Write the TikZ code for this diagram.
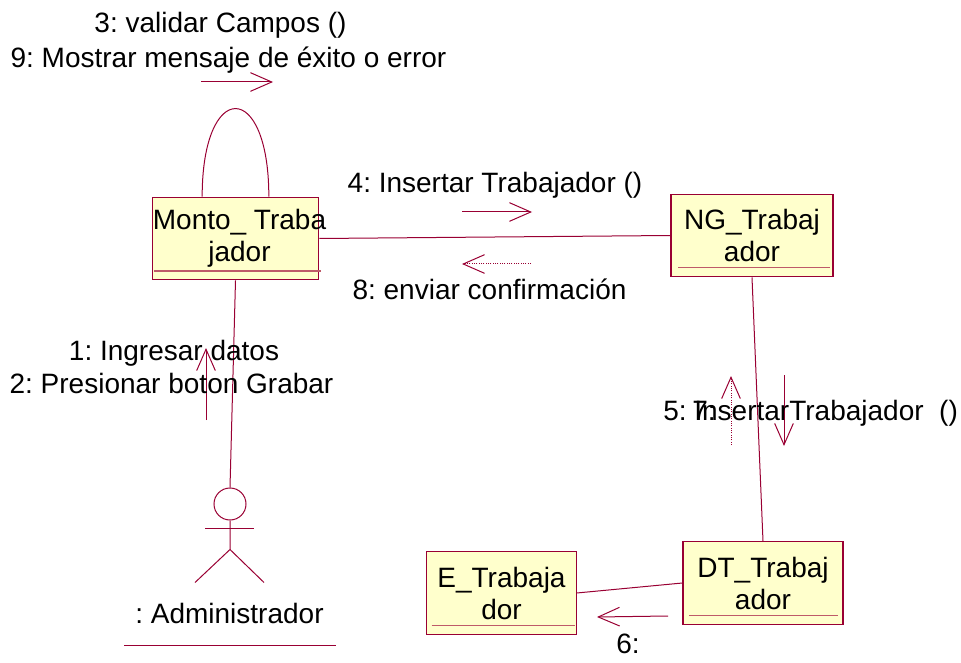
\documentclass[tikz,border=0pt]{standalone}
\usepackage{fontspec}
\setmainfont{Liberation Sans}
\usetikzlibrary{positioning}
\usetikzlibrary{arrows.meta}
\frenchspacing

\definecolor{roseline}{RGB}{153,0,51}
\definecolor{rosefill}{RGB}{255,255,204}
\definecolor{roseunder}{RGB}{190,90,105}

\tikzset{
	objeto/.style = {draw = roseline, fill = rosefill, line width = 0.9pt, inner sep = 0pt, minimum height = 62pt},
	texto/.style = {font = \fontsize{21}{24}\selectfont, inner sep = 0pt},
	enlace/.style = {roseline, line width = 0.75pt},
	subraya/.style = {roseunder, line width = 1.2pt},
	mensaje/.style = {roseline, line width = 0.75pt, ->},
	retorno/.style = {mensaje, densely dotted}
}

\begin{document}
\begin{tikzpicture}[x = 0.75pt, y = -0.75pt, >= {Straight Barb[length = 16pt, width = 14pt]}]
					\useasboundingbox (0, 0) rectangle (961, 663);
					\node (monto) at (235.5, 238.5) [objeto, minimum width = 125pt] {};
					\node (ng) at (752, 235.5) [objeto, minimum width = 121.5pt] {};
					\node (dt) at (763, 583) [objeto, minimum width = 120pt] {};
					\node (e) at (501.5, 593) [objeto, minimum width = 112pt] {};
					\node (montotxt) at ([xshift = 3pt]monto) [texto, align = center] {Monto\_ Traba\\jador};
					\node (ngtxt) at (ng) [texto, align = center] {NG\_Trabaj\\ador};
					\node (dttxt) at (dt) [texto, align = center] {DT\_Trabaj\\ador};
					\node (etxt) at (e) [texto, align = center] {E\_Trabaja\\dor};
					\draw [subraya] ([xshift = 2pt, yshift = 7pt]monto.south west) -- ([xshift = 1pt, yshift = 7pt]monto.south east);
					\draw [subraya] ([xshift = 6pt, yshift = 7.5pt]ng.south west) -- ([xshift = -3pt, yshift = 7.5pt]ng.south east);
					\draw [subraya] ([xshift = 5pt, yshift = 7pt]dt.south west) -- ([xshift = -4pt, yshift = 7pt]dt.south east);
					\draw [subraya] ([xshift = 4pt, yshift = 7pt]e.south west) -- ([xshift = -1pt, yshift = 7pt]e.south east);
					\node (actor) at (230, 504) [circle, draw = roseline, line width = 0.75pt, minimum size = 24pt, inner sep = 0pt] {};
					\draw [enlace] (actor.south) -- ++(0, 29) -- ++(-35, 33);
					\draw [enlace] (actor.south) ++(0, 29) -- ++(34, 33);
					\draw [enlace] (205, 528) -- (254, 528);
					\node (rol) at (229.5, 623) [texto, anchor = base] {: Administrador};
					\draw [enlace] (124, 645) -- (336, 645);
					\draw [enlace] (monto.east) -- (ng.west);
					\draw [enlace] (monto.south) -- (actor.north);
					\draw [enlace] (ng.south) -- (dt.north);
					\draw [enlace] (dt.west) -- (e.east);
					\draw [enlace] ([xshift = -25pt]monto.north) .. controls ([xshift = -25pt, yshift = 88pt]monto.north) and ([xshift = 25pt, yshift = 88pt]monto.north) .. ([xshift = 25pt]monto.north);
					\coordinate (m3a) at (201, 82);
					\coordinate (m3b) at (273, 82);
					\coordinate (m4a) at (462, 212);
					\coordinate (m4b) at (532, 212);
					\coordinate (m8a) at (531, 264);
					\coordinate (m8b) at (462, 264);
					\coordinate (m1a) at (206, 420);
					\coordinate (m1b) at (206, 348);
					\coordinate (m5a) at (784, 375);
					\coordinate (m5b) at (784, 446);
					\coordinate (m7a) at (731, 445);
					\coordinate (m7b) at (731, 376);
					\coordinate (m6a) at (668, 616);
					\coordinate (m6b) at (597, 617);
					\draw [mensaje] (m3a) -- (m3b);
					\draw [mensaje] (m4a) -- (m4b);
					\draw [retorno] (m8a) -- (m8b);
					\draw [mensaje] (m1a) -- (m1b);
					\draw [mensaje] (m5a) -- (m5b);
					\draw [retorno] (m7a) -- (m7b);
					\draw [mensaje] (m6a) -- (m6b);
					\node (l3) at (220.5, 33) [texto, anchor = base] {3: validar Campos ()};
					\node (l9) at (228.5, 68) [texto, anchor = base] {9: Mostrar mensaje de éxito o error};
					\node (l4) at (495, 193) [texto, anchor = base] {4: Insertar Trabajador ()};
					\node (l8) at (489.5, 300) [texto, anchor = base] {8: enviar confirmación};
					\node (l1) at (174, 360) [texto, anchor = base] {1: Ingresar datos};
					\node (l2) at (171.5, 393) [texto, anchor = base] {2: Presionar boton Grabar};
					\node (l5) at (663, 420) [texto, anchor = base west] {5: InsertarTrabajador\ \ ()};
					\node (l7) at (692, 420) [texto, anchor = base west] {7:};
					\node (l6) at (628, 653) [texto, anchor = base] {6:};
				\end{tikzpicture}
\end{document}
